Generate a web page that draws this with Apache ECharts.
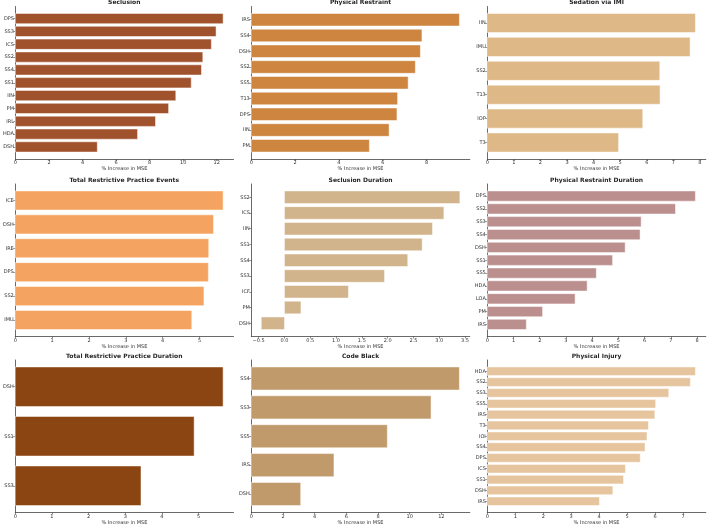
<!DOCTYPE html>
<html>
<head>
<meta charset="utf-8">
<script src="https://cdn.jsdelivr.net/npm/echarts@6/dist/echarts.min.js"></script>
<style>
  html, body { margin: 0; padding: 0; background: #fff; }
  #main { width: 709px; height: 527px; }
</style>
</head>
<body>
<div id="main"></div>
<script>
// panel titles, left-to-right, top-to-bottom
var titles = ['Seclusion', 'Physical Restraint', 'Sedation via IMI',
  'Total Restrictive Practice Events', 'Seclusion Duration', 'Physical Restraint Duration',
  'Total Restrictive Practice Duration', 'Code Black', 'Physical Injury'];

// categories, listed top to bottom
var seclusionCats = ['DPS', 'SS3', 'ICS', 'SS2', 'SS4', 'SS1', 'IIN', 'PM', 'IRL', 'HDA', 'DSH'];
var seclusionVals = [12.38, 11.96, 11.68, 11.17, 11.09, 10.48, 9.56, 9.13, 8.35, 7.28, 4.88];

var restraintCats = ['IRS', 'SS4', 'DSH', 'SS2', 'SS5', 'T13', 'DPS', 'IIN', 'PM'];
var restraintVals = [9.50, 7.79, 7.72, 7.49, 7.16, 6.68, 6.65, 6.29, 5.39];

var sedationCats = ['IIN', 'IMU', 'SS2', 'T13', 'IOP', 'T3'];
var sedationVals = [7.83, 7.63, 6.49, 6.50, 5.85, 4.94];

var trpEventsCats = ['ICE', 'DSH', 'IRE', 'DPS', 'SS2', 'IMU'];
var trpEventsVals = [5.64, 5.38, 5.25, 5.24, 5.12, 4.79];

var seclDurCats = ['SS2', 'ICS', 'IIN', 'SS1', 'SS4', 'SS3', 'ICF', 'PM', 'DSH'];
var seclDurVals = [3.40, 3.09, 2.87, 2.67, 2.39, 1.94, 1.24, 0.32, -0.45];

var restDurCats = ['DPS', 'SS2', 'SS3', 'SS4', 'DSH', 'SS1', 'SS5', 'HDA', 'LOA', 'PM', 'IRS'];
var restDurVals = [7.94, 7.18, 5.87, 5.83, 5.26, 4.78, 4.16, 3.81, 3.35, 2.11, 1.49];

var trpDurCats = ['DSH', 'SS1', 'SS3'];
var trpDurVals = [5.67, 4.88, 3.43];

var codeBlackCats = ['SS4', 'SS3', 'SS5', 'IRS', 'DSH'];
var codeBlackVals = [13.14, 11.35, 8.59, 5.22, 3.12];

var injuryCats = ['HDA', 'SS2', 'SS3', 'SS5', 'IRS', 'T3', 'IOI', 'SS4', 'DPS', 'ICS', 'SS1', 'DSH', 'IRS'];
var injuryVals = [7.44, 7.26, 6.49, 6.02, 5.99, 5.76, 5.71, 5.64, 5.47, 4.94, 4.87, 4.49, 4.01];

// x tick values per panel
var ticks1 = [0, 2, 4, 6, 8, 10, 12];
var ticks2 = [0, 2, 4, 6, 8];
var ticks3 = [0, 1, 2, 3, 4, 5, 6, 7, 8];
var ticks4 = [0, 1, 2, 3, 4, 5];
var ticks5 = [-0.5, 0, 0.5, 1, 1.5, 2, 2.5, 3, 3.5];
var ticks6 = [0, 1, 2, 3, 4, 5, 6, 7, 8];
var ticks7 = [0, 1, 2, 3, 4, 5];
var ticks8 = [0, 2, 4, 6, 8, 10, 12];
var ticks9 = [0, 1, 2, 3, 4, 5, 6, 7];

var panels = [
  { cats: seclusionCats, vals: seclusionVals, ticks: ticks1, color: '#A0522D' },
  { cats: restraintCats, vals: restraintVals, ticks: ticks2, color: '#CD853F' },
  { cats: sedationCats, vals: sedationVals, ticks: ticks3, color: '#DEB887' },
  { cats: trpEventsCats, vals: trpEventsVals, ticks: ticks4, color: '#F4A460' },
  { cats: seclDurCats, vals: seclDurVals, ticks: ticks5, color: '#D2B48C', dec: 1 },
  { cats: restDurCats, vals: restDurVals, ticks: ticks6, color: '#BC8F8F' },
  { cats: trpDurCats, vals: trpDurVals, ticks: ticks7, color: '#8B4513' },
  { cats: codeBlackCats, vals: codeBlackVals, ticks: ticks8, color: '#C19A6B' },
  { cats: injuryCats, vals: injuryVals, ticks: ticks9, color: '#E6C59E' }
];

var colLeft = [15, 251.3, 487.3];
var rowTop = [6.5, 184, 360];
var plotW = 218.5, plotH = 152.5;
var font = 'DejaVu Sans';
var txt = '#333';

var chart = echarts.init(document.getElementById('main'));
var option = { animation: false, title: [], grid: [], xAxis: [], yAxis: [], series: [] };

function renderBar(fill) {
  return function (params, api) {
    var i = api.value(1);
    var a = api.coord([0, i]);
    var b = api.coord([api.value(0), i]);
    var h = api.size([0, 0.8])[1];
    return {
      type: 'rect',
      shape: { x: Math.min(a[0], b[0]), y: a[1] - h / 2, width: Math.abs(b[0] - a[0]), height: h },
      style: { fill: fill, stroke: '#ffffff', lineWidth: 0.5 }
    };
  };
}

panels.forEach(function (p, k) {
  var r = Math.floor(k / 3), c = k % 3;
  var n = p.cats.length;
  var lo = Math.min(0, Math.min.apply(null, p.vals));
  var hi = Math.max(0, Math.max.apply(null, p.vals));
  var m = (hi - lo) * 0.05;
  var xmin = lo < 0 ? lo - m : 0;
  var xmax = hi + m;
  var ym = 0.05 * (n - 0.2);
  var idx = p.cats.map(function (d, i) { return i; });

  option.title.push({
    text: titles[k],
    left: colLeft[c] + plotW / 2,
    top: rowTop[r] - 7,
    textAlign: 'center',
    padding: 0,
    textStyle: { fontFamily: font, fontSize: 6, fontWeight: 'bold', color: '#262626' }
  });
  option.grid.push({ left: colLeft[c], top: rowTop[r], width: plotW, height: plotH });
  option.xAxis.push({
    type: 'value', gridIndex: k, min: xmin, max: xmax,
    name: '% Increase in MSE', nameLocation: 'middle', nameGap: 7.5,
    nameTextStyle: { fontFamily: font, fontSize: 5, color: txt },
    axisLine: { show: true, onZero: false, lineStyle: { color: '#444', width: 0.8 } },
    axisTick: { show: true, length: 2, customValues: p.ticks, lineStyle: { color: '#444', width: 0.6 } },
    axisLabel: {
      customValues: p.ticks, margin: 1.5, fontFamily: font, fontSize: 5, color: txt,
      formatter: function (v) {
        var s = p.dec ? v.toFixed(p.dec) : String(v);
        return s.replace('-', '\u2212');
      }
    },
    splitLine: { show: false }
  });
  option.yAxis.push({
    type: 'value', gridIndex: k, inverse: true,
    min: -0.4 - ym, max: n - 0.6 + ym,
    axisLine: { show: true, onZero: false, lineStyle: { color: '#444', width: 0.8 } },
    axisTick: { show: true, length: 2, customValues: idx, lineStyle: { color: '#444', width: 0.6 } },
    axisLabel: {
      customValues: idx, margin: 1.5, fontFamily: font, fontSize: 5, color: txt,
      formatter: function (v) { return p.cats[Math.round(v)]; }
    },
    splitLine: { show: false }
  });
  option.series.push({
    type: 'custom', xAxisIndex: k, yAxisIndex: k,
    renderItem: renderBar(p.color),
    encode: { x: 0, y: 1 },
    data: p.vals.map(function (v, i) { return [v, i]; })
  });
});

chart.setOption(option);
</script>
</body>
</html>
